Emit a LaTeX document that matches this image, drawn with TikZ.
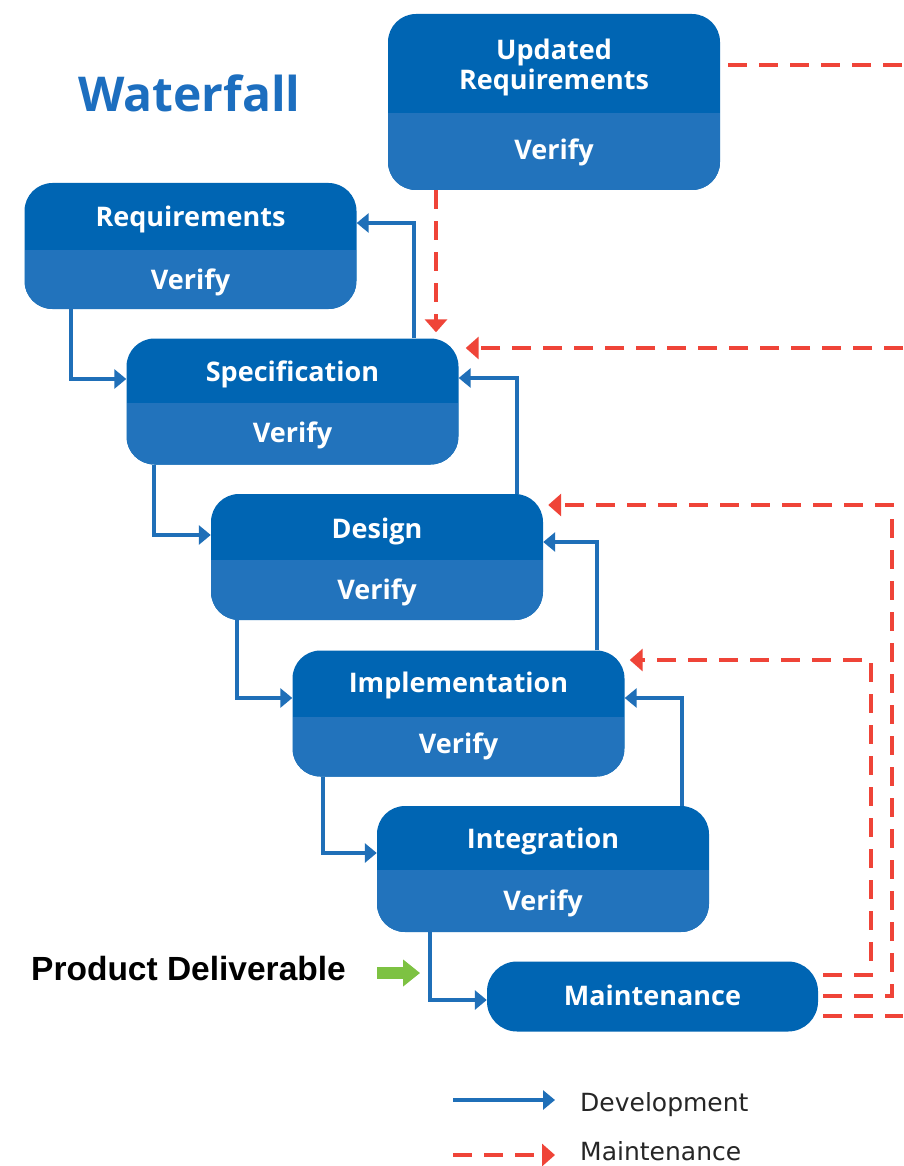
\documentclass[tikz,border=0pt]{standalone}
\usepackage{fontspec}
\usetikzlibrary{arrows.meta}
\newfontfamily\osans{Open Sans}
\newfontfamily\lsans{Liberation Sans}
\newfontfamily\dsans{DejaVu Sans}
\definecolor{topblue}{HTML}{0065B3}
\definecolor{botblue}{HTML}{2273BC}
\definecolor{lineblue}{HTML}{1F6FB8}
\definecolor{mred}{HTML}{EF4438}
\definecolor{pgreen}{HTML}{7DC242}
\definecolor{titleblue}{HTML}{1C6EBF}
\definecolor{legtext}{HTML}{262626}
\begin{document}
\begin{tikzpicture}[x=1pt,y=-1pt,
  stagebox/.style={rectangle, rounded corners=28pt, fill=topblue, draw=none, inner sep=0pt,
    minimum width=332pt, minimum height=126pt,
    path picture={\fill[botblue, sharp corners] (path picture bounding box.south west) rectangle ([yshift=#1]path picture bounding box.south east);}},
  maintbox/.style={rectangle, rounded corners=30pt, fill=topblue, draw=none, inner sep=0pt,
    minimum width=331pt, minimum height=70pt},
  ttl/.style={text=white, font=\osans\bfseries\fontsize{27}{30}\selectfont, inner sep=0pt,
    text height=19.3pt, text depth=0pt},
  dev/.style={draw=lineblue, line width=3.8pt, -{Triangle[length=12pt,width=19pt]}},
  mnt/.style={draw=mred, line width=4.5pt, dash pattern=on 19pt off 12pt},
  mnttip/.style={mnt, -{Triangle[length=13pt,width=22pt]}},
  lgtext/.style={text=legtext, font=\dsans\fontsize{25}{28}\selectfont, inner sep=0pt,
    text height=18pt, text depth=0pt, anchor=west}
]
\fill[white] (0,0) rectangle (903,1166);
\useasboundingbox (0,0) rectangle (903,1166);

% title
\node[font=\osans\bfseries\fontsize{48}{52}\selectfont, text=titleblue, anchor=west, inner sep=0pt,
  text height=34.3pt, text depth=0pt] (title) at (78,94.5) {Waterfall};

% boxes
\node[stagebox=77pt, minimum height=176pt] (upd) at (554,102) {};
\node[stagebox=59pt] (req) at (190.5,246) {};
\node[stagebox=62pt] (spec) at (292.5,401.5) {};
\node[stagebox=60pt] (des) at (377,557) {};
\node[stagebox=60pt] (impl) at (458.5,713.5) {};
\node[stagebox=62pt] (integ) at (543,869) {};
\node[maintbox] (maint) at (652.5,996.5) {};

% box texts
\node[text=white, font=\osans\bfseries\fontsize{27}{30}\selectfont, inner sep=0pt, align=center, anchor=north] (updT) at (554,39) {Updated\\Requirements};
\node[ttl] (updV) at (554,150) {Verify};
\node[ttl] (reqT) at (190.5,217) {Requirements};
\node[ttl] (reqV) at (190.5,280) {Verify};
\node[ttl] (specT) at (292.5,372) {Specification};
\node[ttl] (specV) at (292.5,433) {Verify};
\node[ttl] (desT) at (377,529) {Design};
\node[ttl] (desV) at (377,590) {Verify};
\node[ttl] (implT) at (458.5,683) {Implementation};
\node[ttl] (implV) at (458.5,744) {Verify};
\node[ttl] (integT) at (543,839) {Integration};
\node[ttl] (integV) at (543,901) {Verify};
\node[ttl] (maintT) at (652.5,996) {Maintenance};

% development connectors (downward)
\draw[dev] ([xshift=47pt]req.south west) |- ([yshift=22.5pt]spec.west);
\draw[dev] ([xshift=28pt]spec.south west) |- ([yshift=22pt]des.west);
\draw[dev] ([xshift=26pt]des.south west) |- ([yshift=15.5pt]impl.west);
\draw[dev] ([xshift=31pt]impl.south west) |- ([yshift=16pt]integ.west);
\draw[dev] ([xshift=53pt]integ.south west) |- ([yshift=-3.5pt]maint.west);
% development connectors (upward)
\draw[dev] ([xshift=-45pt]spec.north east) |- ([yshift=23pt]req.east);
\draw[dev] ([xshift=-26pt]des.north east) |- ([yshift=23.5pt]spec.east);
\draw[dev] ([xshift=-28pt]impl.north east) |- ([yshift=15pt]des.east);
\draw[dev] ([xshift=-27pt]integ.north east) |- ([yshift=15.5pt]impl.east);

% maintenance connectors
\coordinate (eUpd) at (903,65);
\coordinate (eSpec) at (903,348);
\coordinate (xUpd) at (436,0);
\coordinate (cIn) at (871,660);
\coordinate (cOut) at (892,505);
\coordinate (eMaint) at (903,1016);
\draw[mnt] ([xshift=8pt,yshift=37pt]upd.east) -- (eUpd);
\draw[mnttip, shorten >=7pt] (eSpec) -- (spec.east |- eSpec);
\draw[mnttip, shorten >=6pt] (upd.south -| xUpd) -- (spec.north -| xUpd);
\draw[mnttip, shorten >=5pt] ([xshift=5pt,yshift=21.5pt]maint.east) -| (cIn) -- (impl.east |- cIn);
\draw[mnttip, shorten >=5pt] ([xshift=5pt,yshift=0.5pt]maint.east) -| (cOut) -- (des.east |- cOut);
\draw[mnt] ([xshift=5pt,yshift=-19.5pt]maint.east) -- (eMaint);

% product deliverable
\node[font=\lsans\bfseries\fontsize{33.5}{36}\selectfont, text=black, anchor=west, inner sep=0pt,
  text height=24pt, text depth=0pt] (pd) at (31,968) {Product Deliverable};
\draw[pgreen, line width=12pt, -{Triangle[length=17pt,width=26pt]}] ([xshift=31pt,yshift=-5pt]pd.east) -- ([xshift=74pt,yshift=-5pt]pd.east);

% legend
\node[lgtext] (lgDev) at (580,1102) {Development};
\node[lgtext] (lgMnt) at (580,1151.5) {Maintenance};
\draw[dev] ([xshift=-127pt,yshift=2pt]lgDev.west) -- ([xshift=-25pt,yshift=2pt]lgDev.west);
\draw[mnttip] ([xshift=-127pt,yshift=-3.5pt]lgMnt.west) -- ([xshift=-25pt,yshift=-3.5pt]lgMnt.west);
\end{tikzpicture}
\end{document}
